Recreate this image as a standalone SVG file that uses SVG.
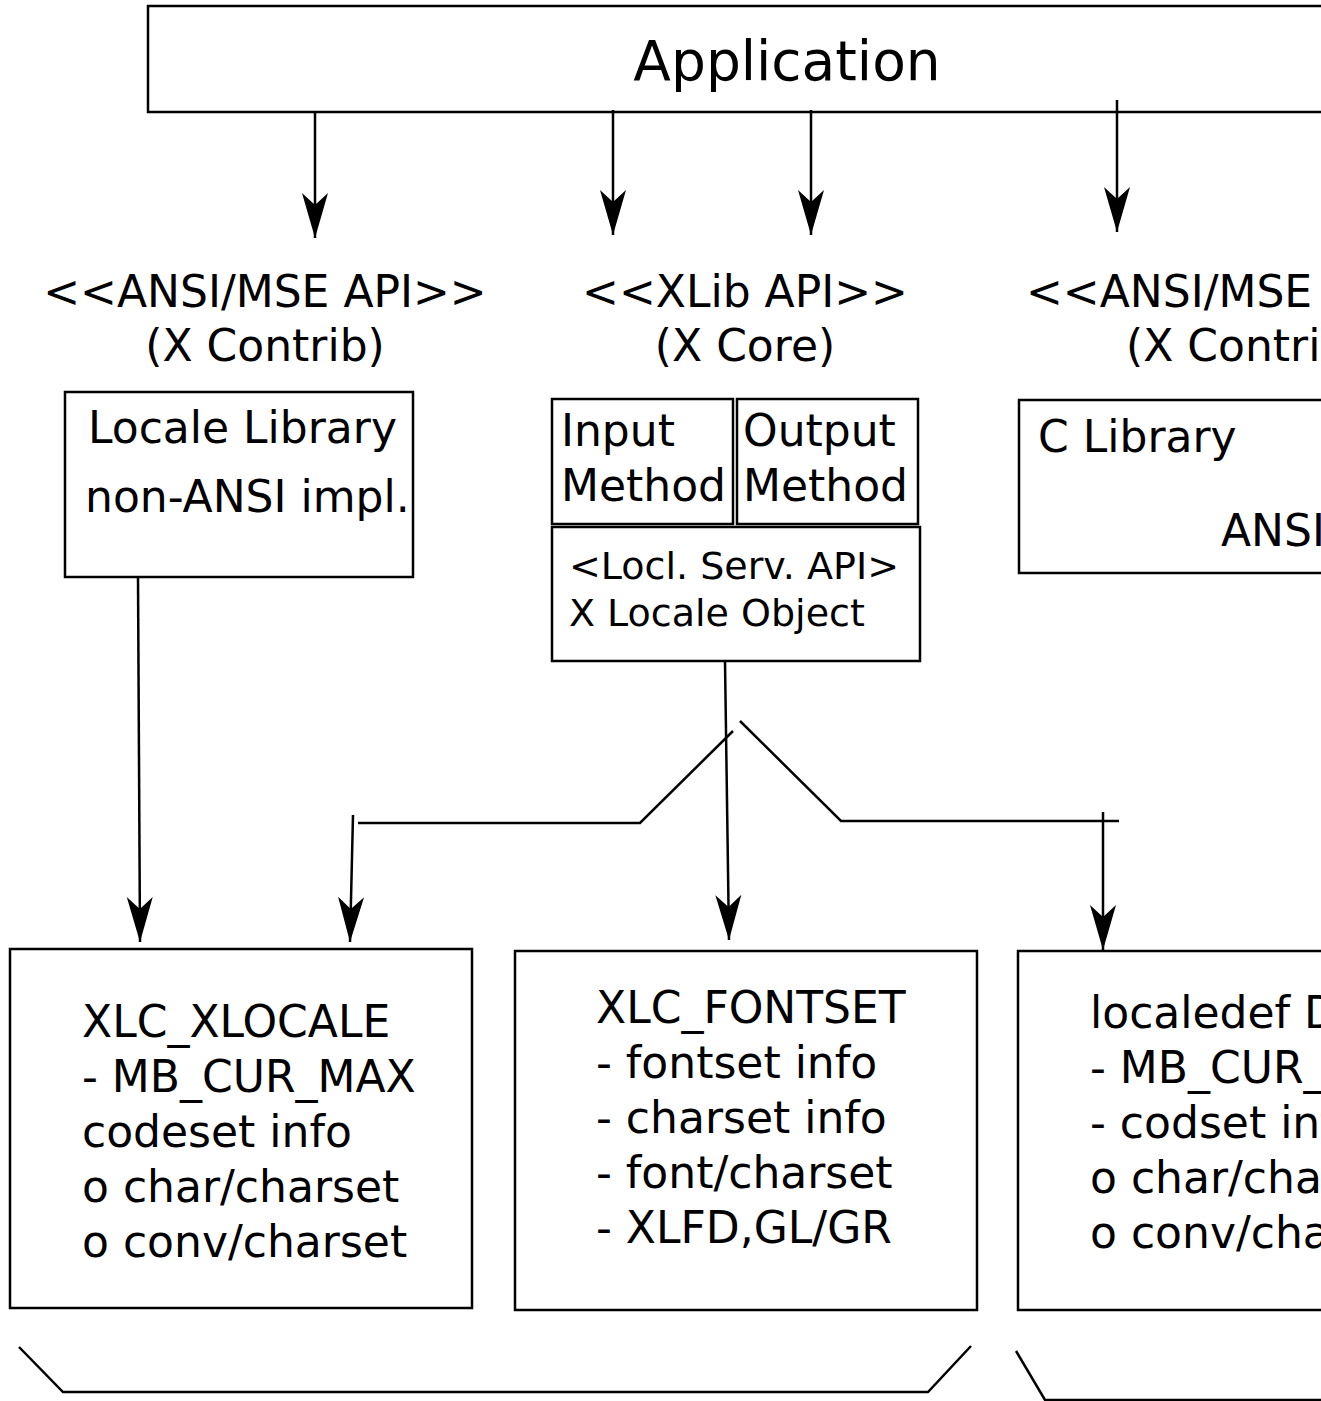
<svg xmlns="http://www.w3.org/2000/svg" width="1321" height="1401" viewBox="0 0 1321 1401">
<style>
  text { font-family: "DejaVu Sans", "Liberation Sans", sans-serif; fill: #000; }
  .t { font-size: 44px; }
  .s { font-size: 38px; }
  .big { font-size: 55px; }
  .box { fill: #fff; stroke: #000; stroke-width: 2.5; }
  .ln { fill: none; stroke: #000; stroke-width: 2.5; }
</style>
<defs>
  <marker id="ah" markerUnits="userSpaceOnUse" viewBox="-46 -14 47 28" markerWidth="47" markerHeight="28" refX="0" refY="0" orient="auto">
    <path d="M0,0 L-45,-13 L-33,0 L-45,13 Z" fill="#000"/>
  </marker>
</defs>
<rect x="0" y="0" width="1321" height="1401" fill="#fff"/>

<g id="application">
  <rect class="box" x="148" y="6" width="1200" height="106"/>
  <text class="big" x="787" y="80" text-anchor="middle">Application</text>
</g>

<g id="label-ansi-left">
  <text class="t" x="265" y="307" text-anchor="middle">&lt;&lt;ANSI/MSE API&gt;&gt;</text>
  <text class="t" x="265" y="361" text-anchor="middle">(X Contrib)</text>
</g>
<g id="label-xlib">
  <text class="t" x="745" y="307" text-anchor="middle">&lt;&lt;XLib API&gt;&gt;</text>
  <text class="t" x="745" y="361" text-anchor="middle">(X Core)</text>
</g>
<g id="label-ansi-right">
  <text class="t" x="1026" y="307">&lt;&lt;ANSI/MSE API&gt;&gt;</text>
  <text class="t" x="1126" y="361">(X Contrib)</text>
</g>

<g id="locale-library">
  <rect class="box" x="65" y="392" width="348" height="185"/>
  <text class="t" x="88" y="443">Locale Library</text>
  <text class="t" x="85" y="512">non-ANSI impl.</text>
</g>

<g id="input-method">
  <rect class="box" x="552" y="399" width="181" height="125"/>
  <text class="t" x="561" y="446">Input</text>
  <text class="t" x="561" y="501">Method</text>
</g>
<g id="output-method">
  <rect class="box" x="737" y="399" width="181" height="125"/>
  <text class="t" x="743" y="446">Output</text>
  <text class="t" x="743" y="501">Method</text>
</g>
<g id="locale-object">
  <rect class="box" x="552" y="527" width="368" height="134"/>
  <text class="s" x="569" y="579">&lt;Locl. Serv. API&gt;</text>
  <text class="s" x="569" y="626">X Locale Object</text>
</g>

<g id="c-library">
  <rect class="box" x="1019" y="400" width="400" height="173"/>
  <text class="t" x="1038" y="452">C Library</text>
  <text class="t" x="1221" y="546">ANSI impl.</text>
</g>

<g id="xlc-xlocale">
  <rect class="box" x="10" y="949" width="462" height="359"/>
  <text class="t" x="82" y="1037">XLC_XLOCALE</text>
  <text class="t" x="82" y="1092">- MB_CUR_MAX</text>
  <text class="t" x="82" y="1147">codeset info</text>
  <text class="t" x="82" y="1202">o char/charset</text>
  <text class="t" x="82" y="1257">o conv/charset</text>
</g>

<g id="xlc-fontset">
  <rect class="box" x="515" y="951" width="462" height="359"/>
  <text class="t" x="596" y="1023">XLC_FONTSET</text>
  <text class="t" x="596" y="1078">- fontset info</text>
  <text class="t" x="596" y="1133">- charset info</text>
  <text class="t" x="596" y="1188">- font/charset</text>
  <text class="t" x="596" y="1243">- XLFD,GL/GR</text>
</g>

<g id="localedef-db">
  <rect class="box" x="1018" y="951" width="462" height="359"/>
  <text class="t" x="1090" y="1028">localedef DB</text>
  <text class="t" x="1090" y="1083">- MB_CUR_MAX</text>
  <text class="t" x="1090" y="1138">- codset info</text>
  <text class="t" x="1090" y="1193">o char/charset</text>
  <text class="t" x="1090" y="1248">o conv/charset</text>
</g>

<g id="connectors">
  <line class="ln" x1="315" y1="112" x2="315" y2="238" marker-end="url(#ah)"/>
  <line class="ln" x1="613" y1="110" x2="613" y2="235" marker-end="url(#ah)"/>
  <line class="ln" x1="811" y1="110" x2="811" y2="235" marker-end="url(#ah)"/>
  <line class="ln" x1="1117" y1="100" x2="1117" y2="232" marker-end="url(#ah)"/>

  <line class="ln" x1="138" y1="577" x2="140" y2="942" marker-end="url(#ah)"/>
  <line class="ln" x1="725" y1="661" x2="729" y2="940" marker-end="url(#ah)"/>

  <polyline class="ln" points="733,731 640,823 358,823"/>
  <polyline class="ln" points="740,721 841,821 1119,821"/>
  <line class="ln" x1="353" y1="815" x2="350" y2="942" marker-end="url(#ah)"/>
  <line class="ln" x1="1103" y1="812" x2="1103" y2="950" marker-end="url(#ah)"/>

  <polyline class="ln" points="19,1347 63,1392 928,1392 971,1346"/>
  <polyline class="ln" points="1016,1351 1045,1400 1330,1400"/>
</g>
</svg>
